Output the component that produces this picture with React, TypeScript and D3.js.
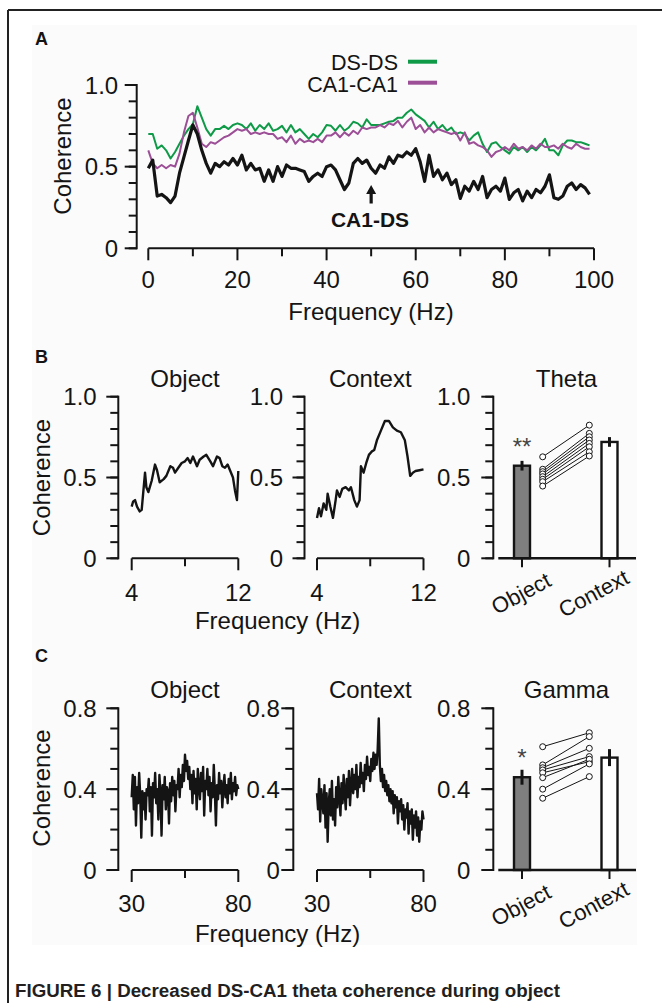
import React from 'react';
import * as d3 from 'd3';

const W = 662;
const H = 1003;
const FONT = "'Liberation Sans', Arial, Helvetica, sans-serif";
const INK = '#141414';

// ---------- Panel A: coherence spectra 0-99 Hz ----------
const freqA = d3.range(0, 100);
const cohCA1DS = [
  0.49, 0.54, 0.32, 0.33, 0.31, 0.28, 0.32, 0.46, 0.56, 0.66,
  0.755, 0.70, 0.60, 0.52, 0.46, 0.52, 0.50, 0.53, 0.51, 0.55,
  0.51, 0.57, 0.48, 0.52, 0.48, 0.49, 0.41, 0.48, 0.41, 0.50,
  0.44, 0.51, 0.49, 0.49, 0.48, 0.47, 0.41, 0.44, 0.46, 0.44,
  0.50, 0.51, 0.48, 0.42, 0.36, 0.40, 0.52, 0.55, 0.52, 0.54,
  0.49, 0.46, 0.51, 0.49, 0.56, 0.52, 0.57, 0.56, 0.59, 0.57,
  0.61, 0.53, 0.41, 0.57, 0.44, 0.48, 0.42, 0.46, 0.39, 0.42,
  0.305, 0.38, 0.35, 0.41, 0.36, 0.44, 0.31, 0.36, 0.38, 0.35,
  0.43, 0.30, 0.34, 0.36, 0.29, 0.35, 0.31, 0.36, 0.34, 0.38,
  0.45, 0.31, 0.30, 0.32, 0.38, 0.40, 0.36, 0.39, 0.37, 0.33,
];
const cohDSDS = [
  0.70, 0.70, 0.61, 0.63, 0.60, 0.55, 0.59, 0.64, 0.69, 0.73,
  0.76, 0.87, 0.80, 0.73, 0.69, 0.73, 0.73, 0.75, 0.73, 0.755,
  0.765, 0.755, 0.73, 0.765, 0.72, 0.755, 0.73, 0.765, 0.72, 0.73,
  0.75, 0.71, 0.755, 0.71, 0.73, 0.70, 0.67, 0.70, 0.68, 0.71,
  0.755, 0.75, 0.72, 0.755, 0.72, 0.74, 0.775, 0.765, 0.74, 0.79,
  0.755, 0.755, 0.755, 0.765, 0.775, 0.78, 0.80, 0.80, 0.83, 0.85,
  0.82, 0.80, 0.78, 0.74, 0.775, 0.73, 0.755, 0.72, 0.74, 0.70,
  0.71, 0.70, 0.66, 0.69, 0.71, 0.64, 0.59, 0.64, 0.65, 0.62,
  0.60, 0.58, 0.62, 0.60, 0.62, 0.59, 0.62, 0.60, 0.63, 0.67,
  0.60, 0.60, 0.57, 0.63, 0.66, 0.66, 0.65, 0.65, 0.64, 0.63,
];
const cohCA1CA1 = [
  0.60, 0.52, 0.49, 0.51, 0.49, 0.51, 0.50, 0.58, 0.71, 0.81,
  0.83, 0.74, 0.64, 0.62, 0.65, 0.64, 0.66, 0.68, 0.69, 0.71,
  0.73, 0.72, 0.73, 0.70, 0.71, 0.70, 0.71, 0.70, 0.70, 0.67,
  0.68, 0.65, 0.69, 0.64, 0.67, 0.65, 0.66, 0.65, 0.67, 0.65,
  0.69, 0.69, 0.71, 0.68, 0.71, 0.69, 0.72, 0.70, 0.74, 0.73,
  0.74, 0.74, 0.755, 0.74, 0.765, 0.755, 0.78, 0.74, 0.775, 0.80,
  0.73, 0.755, 0.71, 0.74, 0.71, 0.73, 0.72, 0.71, 0.70, 0.71,
  0.66, 0.71, 0.64, 0.65, 0.63, 0.62, 0.60, 0.56, 0.59, 0.60,
  0.62, 0.60, 0.64, 0.61, 0.62, 0.60, 0.63, 0.61, 0.64, 0.62,
  0.62, 0.63, 0.61, 0.64, 0.62, 0.61, 0.64, 0.62, 0.61, 0.61,
];

// ---------- Panel B: theta spectra (4-12 Hz) ----------
const thetaObjFreq = [4.0, 4.1, 4.25, 4.4, 4.6, 4.75, 5.0, 5.1, 5.25, 5.5, 5.75, 5.9, 6.1, 6.4, 6.6, 6.9, 7.1, 7.25, 7.5, 7.75, 8.0, 8.2, 8.4, 8.6, 8.9, 9.1, 9.4, 9.6, 9.9, 10.1, 10.4, 10.6, 10.8, 11.0, 11.2, 11.4, 11.6, 11.75, 11.9, 12.0];
const thetaObjCoh = [0.32, 0.35, 0.36, 0.32, 0.29, 0.30, 0.53, 0.44, 0.41, 0.48, 0.58, 0.545, 0.47, 0.49, 0.51, 0.57, 0.56, 0.53, 0.56, 0.59, 0.60, 0.62, 0.59, 0.63, 0.57, 0.61, 0.63, 0.64, 0.60, 0.57, 0.63, 0.62, 0.57, 0.56, 0.58, 0.54, 0.50, 0.42, 0.36, 0.54];
const thetaCtxFreq = [4.0, 4.15, 4.3, 4.5, 4.7, 4.8, 5.0, 5.2, 5.4, 5.5, 5.7, 5.9, 6.15, 6.4, 6.55, 6.8, 7.0, 7.2, 7.3, 7.5, 7.7, 7.9, 8.1, 8.3, 8.5, 8.8, 9.1, 9.4, 9.7, 10.0, 10.3, 10.6, 10.8, 11.0, 11.2, 11.4, 11.7, 12.0];
const thetaCtxCoh = [0.25, 0.31, 0.26, 0.34, 0.30, 0.40, 0.32, 0.25, 0.36, 0.42, 0.38, 0.43, 0.44, 0.42, 0.44, 0.36, 0.32, 0.36, 0.57, 0.53, 0.59, 0.64, 0.66, 0.67, 0.73, 0.79, 0.85, 0.85, 0.81, 0.79, 0.78, 0.73, 0.63, 0.51, 0.53, 0.54, 0.545, 0.55];

// Theta summary
const conditions = ['Object', 'Context'];
const thetaMean = [0.573, 0.72];
const thetaSem = [0.03, 0.03];
const thetaObjAnimals = [0.628, 0.551, 0.536, 0.522, 0.505, 0.489, 0.474, 0.447];
const thetaCtxAnimals = [0.824, 0.773, 0.752, 0.732, 0.711, 0.69, 0.659, 0.633];

// ---------- Panel C: gamma spectra (30-80 Hz, 0.5 Hz bins) ----------
const gammaFreq = d3.range(30, 80.001, 0.5);
const gammaObjCoh = [
  0.36, 0.47, 0.30, 0.46, 0.22, 0.41, 0.33, 0.48, 0.37, 0.16,
  0.39, 0.30, 0.38, 0.25, 0.40, 0.37, 0.45, 0.29, 0.41, 0.17,
  0.43, 0.36, 0.48, 0.33, 0.40, 0.25, 0.47, 0.38, 0.17, 0.42,
  0.35, 0.46, 0.30, 0.41, 0.39, 0.23, 0.43, 0.34, 0.46, 0.37,
  0.44, 0.29, 0.42, 0.40, 0.50, 0.36, 0.47, 0.41, 0.52, 0.44,
  0.57, 0.49, 0.54, 0.45, 0.51, 0.40, 0.47, 0.33, 0.49, 0.38,
  0.45, 0.30, 0.50, 0.41, 0.35, 0.48, 0.39, 0.51, 0.27, 0.44,
  0.40, 0.50, 0.37, 0.46, 0.29, 0.43, 0.36, 0.52, 0.39, 0.22,
  0.42, 0.35, 0.48, 0.38, 0.44, 0.31, 0.41, 0.47, 0.36, 0.42,
  0.33, 0.45, 0.38, 0.48, 0.35, 0.43, 0.39, 0.46, 0.37, 0.42,
  0.40,
];
const gammaCtxCoh = [
  0.38, 0.30, 0.45, 0.24, 0.40, 0.34, 0.28, 0.42, 0.21, 0.38,
  0.14, 0.33, 0.40, 0.27, 0.44, 0.25, 0.35, 0.22, 0.41, 0.31,
  0.46, 0.36, 0.27, 0.43, 0.33, 0.47, 0.38, 0.30, 0.45, 0.36,
  0.49, 0.32, 0.42, 0.50, 0.38, 0.47, 0.40, 0.52, 0.36, 0.46,
  0.41, 0.53, 0.43, 0.48, 0.39, 0.52, 0.45, 0.56, 0.47, 0.51,
  0.44, 0.55, 0.49, 0.58, 0.50, 0.57, 0.52, 0.60, 0.75, 0.52,
  0.44, 0.50, 0.41, 0.47, 0.39, 0.44, 0.37, 0.42, 0.34, 0.40,
  0.33, 0.39, 0.28, 0.37, 0.31, 0.36, 0.23, 0.34, 0.29, 0.35,
  0.25, 0.32, 0.20, 0.30, 0.26, 0.33, 0.18, 0.29, 0.23, 0.30,
  0.15, 0.27, 0.21, 0.29, 0.17, 0.26, 0.14, 0.24, 0.20, 0.29,
  0.25,
];

// Gamma summary
const gammaMean = [0.459, 0.556];
const gammaSem = [0.037, 0.042];
const gammaObjAnimals = [0.61, 0.52, 0.506, 0.495, 0.481, 0.457, 0.40, 0.355];
const gammaCtxAnimals = [0.679, 0.66, 0.602, 0.561, 0.536, 0.548, 0.525, 0.462];

const fmtTick = (t: number) => (t === 0 ? '0' : t.toFixed(1));

type Lin = d3.ScaleLinear<number, number>;

function YAxis({ scale, x, majors, minors, gap }: { scale: Lin; x: number; majors: number[]; minors: number[]; gap: number }) {
  const [d0, d1] = scale.domain();
  return (
    <g>
      <line x1={x} x2={x} y1={scale(d0)} y2={scale(d1)} stroke={INK} strokeWidth={2} strokeLinecap="square" />
      {minors.map((t) => (
        <line key={'mi' + t} x1={x - 8} x2={x} y1={scale(t)} y2={scale(t)} stroke={INK} strokeWidth={2} />
      ))}
      {majors.map((t) => (
        <line key={'ma' + t} x1={x - 12} x2={x} y1={scale(t)} y2={scale(t)} stroke={INK} strokeWidth={2} />
      ))}
      {majors.map((t) => (
        <text key={'l' + t} x={x - gap} y={scale(t)} dy="0.36em" textAnchor="end" fontSize={24} fill={INK}>
          {fmtTick(t)}
        </text>
      ))}
    </g>
  );
}

function XAxis({ scale, y, majors, minors, labelY }: { scale: Lin; y: number; majors: number[]; minors: number[]; labelY: number }) {
  const [d0, d1] = scale.domain();
  return (
    <g>
      <line x1={scale(d0)} x2={scale(d1)} y1={y} y2={y} stroke={INK} strokeWidth={2} />
      {minors.map((t) => (
        <line key={'mi' + t} x1={scale(t)} x2={scale(t)} y1={y} y2={y + 8} stroke={INK} strokeWidth={2} />
      ))}
      {majors.map((t) => (
        <line key={'ma' + t} x1={scale(t)} x2={scale(t)} y1={y} y2={y + 12} stroke={INK} strokeWidth={2} />
      ))}
      {majors.map((t) => (
        <text key={'l' + t} x={scale(t)} y={labelY} textAnchor="middle" fontSize={24} fill={INK}>
          {String(t)}
        </text>
      ))}
    </g>
  );
}

function SpectrumPlot({
  title, freq, coh, xDomain, xRange, yScale, axisX, gap, xMajors, xMinors, yMajors, yMinors, titleY, labelY,
}: {
  title: string; freq: number[]; coh: number[]; xDomain: [number, number]; xRange: [number, number]; yScale: Lin;
  axisX: number; gap: number; xMajors: number[]; xMinors: number[]; yMajors: number[]; yMinors: number[]; titleY: number; labelY: number;
}) {
  const x = d3.scaleLinear().domain(xDomain).range(xRange);
  const line = d3.line<number>().x((_, i) => x(freq[i])).y((d) => yScale(d));
  const y0 = yScale(yScale.domain()[0]);
  return (
    <g>
      <text x={(xRange[0] + xRange[1]) / 2} y={titleY} textAnchor="middle" fontSize={24} fill={INK}>{title}</text>
      <YAxis scale={yScale} x={axisX} majors={yMajors} minors={yMinors} gap={gap} />
      <XAxis scale={x} y={y0} majors={xMajors} minors={xMinors} labelY={labelY} />
      <path d={line(coh) || ''} fill="none" stroke={INK} strokeWidth={2.4} strokeLinejoin="round" />
    </g>
  );
}

function BarPlot({
  title, yScale, axisX, means, sems, objAnimals, ctxAnimals, stars, starY, titleY, yMajors, yMinors,
}: {
  title: string; yScale: Lin; axisX: number; means: number[]; sems: number[]; objAnimals: number[]; ctxAnimals: number[];
  stars: string; starY: number; titleY: number; yMajors: number[]; yMinors: number[];
}) {
  const x = d3.scalePoint<string>().domain(conditions).range([522, 609.5]);
  const y0 = yScale(0);
  const barW = 16;
  const leftDotX = x('Object')! + 20.7;
  const rightDotX = x('Context')! - 20.2;
  const labelDx = [-1, -16];
  return (
    <g>
      <text x={566.5} y={titleY} textAnchor="middle" fontSize={24} fill={INK}>{title}</text>
      <YAxis scale={yScale} x={axisX} majors={yMajors} minors={yMinors} gap={23} />
      {conditions.map((c, i) => (
        <g key={c}>
          <rect x={x(c)! - barW / 2} y={yScale(means[i])} width={barW} height={y0 - yScale(means[i])}
            fill={i === 0 ? '#7f7f7f' : '#ffffff'} stroke={INK} strokeWidth={2.4} />
          <line x1={x(c)} x2={x(c)} y1={yScale(means[i] - sems[i])} y2={yScale(means[i] + sems[i])} stroke={INK} strokeWidth={3} />
          <line x1={x(c)} x2={x(c)} y1={y0} y2={y0 + 9} stroke={INK} strokeWidth={2} />
          <text transform={`translate(${x(c)! + labelDx[i]},${y0 + 35}) rotate(-28)`} textAnchor="middle" dy="0.35em"
            fontSize={22} fill={INK}>{c}</text>
        </g>
      ))}
      <line x1={axisX + 5} x2={636} y1={y0} y2={y0} stroke={INK} strokeWidth={2.4} />
      {objAnimals.map((v, i) => (
        <line key={'p' + i} x1={leftDotX} x2={rightDotX} y1={yScale(v)} y2={yScale(ctxAnimals[i])} stroke={INK} strokeWidth={1} />
      ))}
      {objAnimals.map((v, i) => (
        <circle key={'a' + i} cx={leftDotX} cy={yScale(v)} r={3} fill="#fff" stroke={INK} strokeWidth={1} />
      ))}
      {ctxAnimals.map((v, i) => (
        <circle key={'b' + i} cx={rightDotX} cy={yScale(v)} r={3} fill="#fff" stroke={INK} strokeWidth={1} />
      ))}
      <text x={x('Object')!} y={starY} textAnchor="middle" fontSize={24} fill="#444">{stars}</text>
    </g>
  );
}

export default function App() {
  // Panel A scales
  const xA = d3.scaleLinear().domain([0, 100]).range([148.3, 594]);
  const yA = d3.scaleLinear().domain([0, 1]).range([248.3, 85]);
  const lineA = d3.line<number>().x((_, i) => xA(freqA[i])).y((d) => yA(d));
  const arrowX = xA(50);

  // Panel B / C y scales
  const yB = d3.scaleLinear().domain([0, 1]).range([558.3, 396.7]);
  const yC = d3.scaleLinear().domain([0, 0.8]).range([870, 708.3]);

  const tenths = d3.range(0, 1.0001, 0.1).map((v) => +v.toFixed(1));
  const tenthsC = d3.range(0, 0.8001, 0.1).map((v) => +v.toFixed(1));

  return (
    <svg width={W} height={H} viewBox={`0 0 ${W} ${H}`} style={{ position: 'absolute', left: 0, top: 0, background: '#fff' }}
      fontFamily={FONT}>
      <rect x={0} y={0} width={W} height={H} fill="#ffffff" />
      <rect x={32} y={25} width={605} height={920} fill="#fbfbfb" />
      <line x1={8} x2={W} y1={10} y2={10} stroke="#222" strokeWidth={2} />
      <line x1={8} x2={8} y1={10} y2={H} stroke="#222" strokeWidth={2} />

      {/* ---------- Panel A ---------- */}
      <text x={35} y={45} fontSize={18} fontWeight="bold" fill={INK}>A</text>
      <text transform={`translate(62.5,156) rotate(-90)`} textAnchor="middle" dy="0.35em" fontSize={24} fill={INK}>Coherence</text>
      <YAxis scale={yA} x={136.7} majors={[0, 0.5, 1.0]} minors={tenths} gap={18.5} />
      <XAxis scale={xA} y={248.3} majors={[0, 20, 40, 60, 80, 100]} minors={[10, 30, 50, 70, 90]} labelY={288.3} />
      <text x={371} y={319.5} textAnchor="middle" fontSize={24} fill={INK}>Frequency (Hz)</text>
      <path d={lineA(cohDSDS) || ''} fill="none" stroke="#0f9a48" strokeWidth={2} strokeLinejoin="round" />
      <path d={lineA(cohCA1CA1) || ''} fill="none" stroke="#9c4f97" strokeWidth={2} strokeLinejoin="round" />
      <path d={lineA(cohCA1DS) || ''} fill="none" stroke={INK} strokeWidth={3.2} strokeLinejoin="round" />
      {/* legend */}
      <text x={398} y={70} textAnchor="end" fontSize={21.5} fill={INK}>DS-DS</text>
      <line x1={408} x2={437} y1={61.7} y2={61.7} stroke="#0f9a48" strokeWidth={4} />
      <text x={398} y={92} textAnchor="end" fontSize={21.5} fill={INK}>CA1-CA1</text>
      <line x1={408} x2={437} y1={82.7} y2={82.7} stroke="#9c4f97" strokeWidth={4} />
      {/* arrow annotation */}
      <path d={`M${arrowX},185 L${arrowX - 5},194 L${arrowX - 1.6},194 L${arrowX - 1.6},203.5 L${arrowX + 1.6},203.5 L${arrowX + 1.6},194 L${arrowX + 5},194 Z`} fill={INK} />
      <text x={370} y={226.7} textAnchor="middle" fontSize={21} fontWeight="bold" fill={INK}>CA1-DS</text>

      {/* ---------- Panel B ---------- */}
      <text x={35} y={363.3} fontSize={18} fontWeight="bold" fill={INK}>B</text>
      <text transform={`translate(41.7,477.5) rotate(-90)`} textAnchor="middle" dy="0.35em" fontSize={24} fill={INK}>Coherence</text>
      <SpectrumPlot title="Object" freq={thetaObjFreq} coh={thetaObjCoh} xDomain={[4, 12]} xRange={[131.7, 238.3]} yScale={yB}
        axisX={118.3} gap={21.6} xMajors={[4, 12]} xMinors={[8]} yMajors={[0, 0.5, 1.0]} yMinors={tenths} titleY={387.3} labelY={600.5} />
      <SpectrumPlot title="Context" freq={thetaCtxFreq} coh={thetaCtxCoh} xDomain={[4, 12]} xRange={[317, 423.5]} yScale={yB}
        axisX={304.5} gap={21.5} xMajors={[4, 12]} xMinors={[8]} yMajors={[0, 0.5, 1.0]} yMinors={tenths} titleY={387.3} labelY={600.5} />
      <text x={277.6} y={628.5} textAnchor="middle" fontSize={24} fill={INK}>Frequency (Hz)</text>
      <BarPlot title="Theta" yScale={yB} axisX={493.3} means={thetaMean} sems={thetaSem} objAnimals={thetaObjAnimals}
        ctxAnimals={thetaCtxAnimals} stars="**" starY={455} titleY={387.3} yMajors={[0, 0.5, 1.0]} yMinors={tenths} />

      {/* ---------- Panel C ---------- */}
      <text x={35} y={661.5} fontSize={18} fontWeight="bold" fill={INK}>C</text>
      <text transform={`translate(41.7,788) rotate(-90)`} textAnchor="middle" dy="0.35em" fontSize={24} fill={INK}>Coherence</text>
      <SpectrumPlot title="Object" freq={gammaFreq} coh={gammaObjCoh} xDomain={[30, 80]} xRange={[131.7, 238.3]} yScale={yC}
        axisX={118.3} gap={21.6} xMajors={[30, 80]} xMinors={[55]} yMajors={[0, 0.4, 0.8]} yMinors={tenthsC} titleY={698.3} labelY={911.7} />
      <SpectrumPlot title="Context" freq={gammaFreq} coh={gammaCtxCoh} xDomain={[30, 80]} xRange={[317, 423.5]} yScale={yC}
        axisX={293.3} gap={13.5} xMajors={[30, 80]} xMinors={[55]} yMajors={[0, 0.4, 0.8]} yMinors={tenthsC} titleY={698.3} labelY={911.7} />
      <text x={277.6} y={942} textAnchor="middle" fontSize={24} fill={INK}>Frequency (Hz)</text>
      <BarPlot title="Gamma" yScale={yC} axisX={493.3} means={gammaMean} sems={gammaSem} objAnimals={gammaObjAnimals}
        ctxAnimals={gammaCtxAnimals} stars="*" starY={766} titleY={698.3} yMajors={[0, 0.4, 0.8]} yMinors={tenthsC} />

      {/* ---------- Caption ---------- */}
      <text x={15} y={997} fontSize={18.7} fontWeight="bold" fill="#231f20" textLength={545} lengthAdjust="spacingAndGlyphs">
        FIGURE 6 | Decreased DS-CA1 theta coherence during object
      </text>
    </svg>
  );
}
